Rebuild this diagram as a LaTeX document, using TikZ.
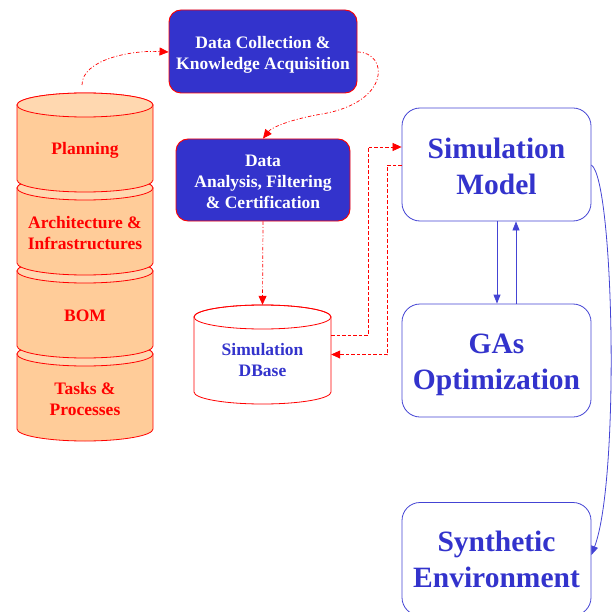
\documentclass[tikz,border=0pt]{standalone}
\usepackage{fontspec}
\setmainfont{Liberation Serif}
\usetikzlibrary{arrows.meta}
\definecolor{dblue}{HTML}{3333CC}
\definecolor{lblue}{HTML}{4444D4}
\definecolor{peach}{HTML}{FFCC99}
\definecolor{peachtop}{HTML}{FFD8B0}
\definecolor{rred}{HTML}{FF0000}
\tikzset{
  smallfont/.style={font=\fontsize{17.5}{21}\selectfont\bfseries},
  bigfont/.style={font=\fontsize{29.5}{36}\selectfont\bfseries},
  bluebox/.style={draw=rred, line width=0.9pt, fill=dblue, rounded corners=12pt, text=white, smallfont, align=center, inner sep=0pt},
  whitebox/.style={draw=lblue, line width=0.8pt, fill=white, rounded corners=18pt, minimum width=189pt, minimum height=113pt, inner sep=0pt},
  boxtext/.style={text=dblue, bigfont, align=center},
  drumlabel/.style={text=rred, smallfont, align=center},
  dashdotarrow/.style={draw=rred, line width=0.7pt, dash pattern=on 3.5pt off 2pt on 1pt off 2pt, -{Triangle[length=9pt,width=8pt]}},
  dashedarrow/.style={draw=rred, line width=0.7pt, dash pattern=on 3.5pt off 2pt, -{Triangle[length=9pt,width=8pt]}},
  bluearrow/.style={draw=lblue, line width=0.8pt, -{Triangle[length=9pt,width=7pt]}}
}
\begin{document}
\begin{tikzpicture}[x=1pt,y=1pt]
\path[use as bounding box] (0,0) rectangle (612,-612);
\clip (0,0) rectangle (612,-612);
% stacked drums (drawn bottom to top)
\foreach \yc in {354,271,188,105}{
  \path[draw=rred, line width=0.8pt, fill=peach]
    (17,{-\yc}) -- (17,{-\yc-75}) arc[start angle=180, end angle=360, x radius=68, y radius=12]
    -- (153,{-\yc}) arc[start angle=0, end angle=180, x radius=68, y radius=12] -- cycle;
  \path[draw=rred, line width=0.8pt, fill=peachtop] (85,{-\yc}) ellipse[x radius=68, y radius=12];
}
\node[drumlabel] (plan) at (85,-150) {Planning};
\node[drumlabel] (arch) at (85,-233) {Architecture \&\\Infrastructures};
\node[drumlabel] (bom) at (85,-315.5) {BOM};
\node[drumlabel] (tasks) at (85,-399) {Tasks \&\\Processes};
\coordinate (plantop) at (82,-85);
% simulation dbase drum
\path[draw=rred, line width=0.8pt, fill=white]
  (194,-317) -- (194,-392) arc[start angle=180, end angle=360, x radius=68.5, y radius=12]
  -- (331,-317) arc[start angle=0, end angle=180, x radius=68.5, y radius=12] -- cycle;
\path[draw=rred, line width=0.8pt] (262.5,-317) ellipse[x radius=68.5, y radius=12];
\node[minimum width=137pt, minimum height=99pt, inner sep=0pt] (dbase) at (262.5,-354.5) {};
\node[text=dblue, smallfont, align=center] (dbtext) at (262.5,-360.5) {Simulation\\DBase};
% blue boxes
\node[bluebox, minimum width=188pt, minimum height=83pt] (col) at (263,-51.5) {};
\node[text=white, smallfont, align=center] (coltext) at (263,-54.5) {Data Collection \&\\Knowledge Acquisition};
\node[bluebox, minimum width=174pt, minimum height=82pt] (ana) at (263,-180) {};
\node[text=white, smallfont, align=center] (anatext) at (263,-182) {Data\\Analysis, Filtering\\\& Certification};
% white boxes
\node[whitebox] (sim) at (496.5,-164.5) {};
\node[boxtext] (simtext) at (496.5,-166.5) {Simulation\\Model};
\node[whitebox] (gas) at (496.5,-360.5) {};
\node[boxtext] (gastext) at (496.5,-365) {GAs\\Optimization};
\node[whitebox] (syn) at (496.5,-559) {};
\node[boxtext] (syntext) at (496.5,-559) {Synthetic\\Environment};
% connectors
\draw[dashdotarrow] (plantop) .. controls (82,-60) and (130,-50) .. ([yshift=-0.5pt]col.west);
\draw[dashdotarrow] ([yshift=-0.5pt]col.east) .. controls (388,-52) and (392,-102) .. (322,-114) .. controls (292,-119) and (272,-127) .. (ana.north);
\draw[dashdotarrow] (ana.south) -- (dbase.north);
\draw[dashedarrow] ([yshift=19.5pt]dbase.east) -- ++(37,0) |- ([yshift=17.5pt]sim.west);
\draw[dashedarrow] ([yshift=-0.5pt]sim.west) -- ++(-14,0) |- (dbase.east);
\draw[bluearrow] ([xshift=0.5pt]sim.south) -- ([xshift=0.5pt]gas.north);
\draw[bluearrow] ([xshift=19.5pt]gas.north) -- ([xshift=19.5pt]sim.south);
\draw[bluearrow] ([yshift=-0.5pt]sim.east) .. controls (614,-180) and (620,-480) .. ([yshift=4pt]syn.east);
\end{tikzpicture}
\end{document}
